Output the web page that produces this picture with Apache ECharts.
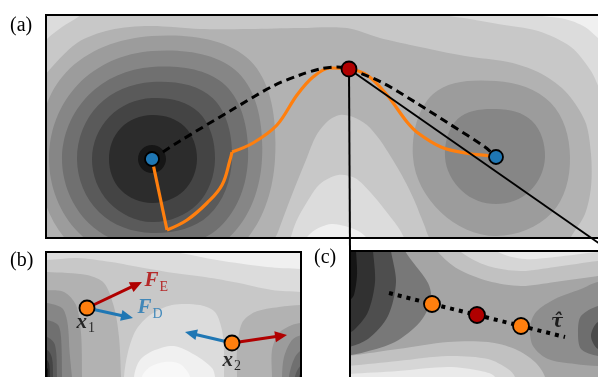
<!DOCTYPE html>
<html>
<head>
<meta charset="utf-8">
<title>NEB sketch</title>
<script src="https://cdn.jsdelivr.net/npm/echarts@6.0.0/dist/echarts.min.js"></script>
<style>
  html, body { margin: 0; padding: 0; background: #fff; }
  #main { width: 598px; height: 377px; }
</style>
</head>
<body>
<div id="main"></div>
<script>
// contour fill colours, light -> dark (panels a, b); index 11 = whitest cap
const greys = ['#f0f0f0', '#dcdcdc', '#c8c8c8', '#b2b2b2', '#9c9c9c', '#868686',
  '#707070', '#5a5a5a', '#444444', '#2c2c2c', '#161616', '#f8f8f8'];
// panel c uses its own shades
const greysC = ['#a5a5a5', '#c1c1c1', '#d6d6d6', '#eaeaea', '#787878', '#4e4e4e',
  '#313131', '#151515', '#8e8e8e', '#6e6e6e', '#4a4a4a'];

const orange = '#ff7f0e';
const blue = '#1f77b4';
const red = '#b00000';

// ---- panel (a): full landscape, x 0..564, y 0..223 (y downwards)
const aExtent = [[0, 564], [0, 223]];
const aSaddleBand = [[-26, 95], [0, 59], [31, 28], [64, 15], [104, 11], [154, 14], [204, 14],
  [254, 13], [301, 13], [334, 23], [374, 32], [419, 41], [462, 47], [492, 57], [519, 76],
  [539, 106], [545, 139], [545, 172], [539, 199], [525, 222], [514, 245], [-26, 245]];
const aTopLeft = [[-20, 50], [0, 25], [16, 12], [32, 2], [45, -10], [-20, -10]];
const aTopRight1 = [[380, -10], [395, -1], [424, 4], [452, 9], [492, 16], [525, 32], [545, 56],
  [556, 78], [575, 100], [600, -10]];
const aTopRight0 = [[470, -10], [485, -1], [519, 4], [539, 12], [552, 23], [570, 38], [600, -10]];
const aHump2 = [[224, 240], [232, 217], [242, 190], [251, 167], [260, 145], [270, 121], [282, 106],
  [294, 100], [307, 102], [321, 110], [334, 125], [345, 142], [354, 157], [362, 172], [369, 187],
  [375, 202], [380, 215], [386, 240]];
const aHump1 = [[240, 240], [244, 225], [250, 207], [261, 187], [274, 169], [292, 160], [309, 163],
  [325, 178], [339, 195], [352, 212], [359, 225], [362, 240]];
const aHump0 = [[255, 240], [259, 225], [269, 215], [285, 209], [299, 211], [314, 217], [322, 225],
  [326, 240]];
// wells: level, then radii towards R, UR, U, UL, L, DL, D, DR
const aLeftWell = [106, 144];
const aLeftRings = [
  [4, 123, 139, 123, 122, 114, 118, 120, 124],
  [5, 110, 122, 108, 105, 103, 104, 105, 110],
  [6, 96, 104, 92, 90, 90, 90, 89, 96],
  [7, 80, 86, 77, 76, 75, 75, 74, 80],
  [8, 63, 66, 61, 60, 60, 61, 63, 64],
  [9, 45, 46, 44, 44, 43, 44, 44, 45],
  [10, 14, 14, 14, 14, 14, 14, 14, 14]
];
const aRightWell = [450, 142];
const aRightRings = [
  [4, 74, 77, 76, 89, 83, 78, 79, 79],
  [5, 49, 51, 48, 54, 51, 48, 47, 48]
];
const aDashed = [[106, 144], [134, 126], [184, 96], [227, 71], [254, 60], [274, 54], [291, 52],
  [303, 54], [335, 67], [369, 87], [402, 108], [439, 132], [450, 142]];
const aOrange1 = [[106, 144], [121, 215]];
const aOrange2 = [[121, 215], [141, 205], [161, 188], [176, 170], [184, 145], [186, 137]];
const aOrange3 = [[186, 137], [207, 128], [231, 110], [251, 80], [267, 62], [284, 53], [303, 54],
  [321, 60], [341, 80], [361, 107], [372, 118], [395, 132], [419, 138], [444, 141], [450, 142]];
const aMinima = [[106, 144], [450, 142]];
const aSaddle = [[303, 54]];

// ---- panel (b): two images near the saddle, x 0..255, y 0..140
const bExtent = [[0, 255], [0, 140]];
const bTop1 = [[-20, 8], [1, 8], [31, 6], [65, 10], [98, 16], [128, 21], [159, 25], [193, 31],
  [226, 38], [255, 40], [275, 42], [275, -20], [-20, -20]];
const bTop0 = [[95, -20], [104, -2], [134, 1], [171, 8], [221, 15], [255, 17], [275, 18], [275, -20]];
const bLeft = [
  [3, [[-20, 20], [1, 20], [41, 23], [58, 31], [68, 55], [73, 85], [75, 125], [76, 160], [-20, 160]]],
  [4, [[-20, 36], [0, 38], [18, 40], [30, 53], [35, 81], [36, 125], [36, 160], [-20, 160]]],
  [5, [[-20, 50], [1, 51], [16, 56], [21, 68], [23, 90], [23, 160], [-20, 160]]],
  [6, [[-20, 67], [1, 68], [12, 73], [15, 85], [16, 125], [16, 160], [-20, 160]]],
  [7, [[-20, 84], [1, 85], [9, 93], [11, 125], [11, 160], [-20, 160]]],
  [8, [[-20, 97], [1, 98], [6, 106], [7, 125], [7, 160], [-20, 160]]],
  [9, [[-20, 107], [1, 108], [4, 125], [4, 160], [-20, 160]]],
  [10, [[-20, 115], [1, 116], [2, 125], [2, 160], [-20, 160]]]
];
const bRight = [
  [3, [[190, 160], [191, 125], [191, 98], [196, 71], [209, 60], [233, 55], [256, 53], [280, 53], [280, 160]]],
  [4, [[226, 160], [226, 125], [226, 98], [233, 81], [246, 73], [256, 71], [280, 70], [280, 160]]],
  [5, [[236, 160], [236, 125], [238, 105], [246, 88], [256, 83], [280, 82], [280, 160]]],
  [6, [[243, 160], [243, 125], [249, 105], [256, 98], [280, 96], [280, 160]]],
  [7, [[249, 160], [249, 125], [256, 113], [280, 110], [280, 160]]],
  [8, [[253, 160], [253, 125], [257, 119], [280, 116], [280, 160]]]
];
const bHump1 = [[78, 160], [78, 125], [82, 100], [90, 78], [104, 63], [126, 53], [154, 53], [169, 60],
  [176, 78], [178, 100], [178, 125], [178, 160]];
const bHump0 = [[88, 160], [88, 125], [94, 108], [109, 98], [128, 94], [149, 103], [166, 116],
  [169, 125], [169, 160]];
const bHumpW = [[96, 160], [96, 125], [104, 115], [119, 110], [134, 112], [144, 125], [144, 160]];
const bImages = [[41, 56], [186, 91]];
const bForceE = [[41, 56, 96, 30], [186, 91, 241, 83]];
const bForceD = [[41, 56, 87, 66], [186, 91, 139, 80]];
const bLabelPos = [[98, 30], [91, 57], [30, 72], [176, 110]];
const bLabelText = ['{fe|F}{se|E}', '{fd|F}{sd|D}', '{fx|x}{sx|1}', '{fx|x}{sx|2}'];

// ---- panel (c): close-up of the saddle, x 0..260, y 0..140
const cExtent = [[0, 260], [0, 140]];
const cShapes = [
  [1, [[84, -10], [88, 1], [108, 18], [138, 30], [171, 35], [205, 31], [248, 25], [275, 22], [275, -10]]],
  [2, [[108, -10], [111, 1], [138, 15], [171, 20], [205, 16], [248, 10], [275, 8], [275, -10]]],
  [3, [[145, -10], [148, 1], [175, 8], [205, 6], [248, 1], [275, 0], [275, -10]]],
  [1, [[-20, 150], [-20, 107], [-2, 105], [48, 98], [98, 91], [138, 91], [165, 98], [185, 111], [195, 126], [198, 150]]],
  [2, [[-20, 150], [-20, 116], [-2, 115], [48, 110], [98, 105], [138, 108], [158, 118], [165, 126], [168, 150]]],
  [3, [[-20, 150], [-20, 124], [-2, 123], [48, 120], [98, 116], [131, 120], [145, 126], [148, 150]]],
  [4, [[-20, -10], [54, -10], [55, 0], [78, 32], [81, 49], [70, 71], [45, 91], [15, 101], [-5, 105], [-20, 106]]],
  [5, [[-20, -10], [40, -10], [41, 0], [46, 31], [38, 65], [18, 88], [-5, 97], [-20, 98]]],
  [6, [[-20, -10], [22, -10], [23, 0], [25, 31], [18, 61], [5, 78], [-5, 84], [-20, 86]]],
  [7, [[-20, -10], [5, -10], [6, 0], [7, 24], [4, 44], [0, 49], [-5, 52], [-20, 54]]],
  [8, [[275, 30], [248, 31], [231, 38], [205, 48], [186, 61], [180, 76], [183, 95], [198, 108], [225, 113], [248, 115], [275, 116]]],
  [9, [[275, 50], [248, 55], [231, 65], [228, 81], [231, 98], [248, 105], [275, 108]]],
  [10, [[275, 65], [248, 71], [241, 85], [248, 98], [275, 105]]]
];
const cChain = [[39, 42], [82, 53], [127, 64], [171, 75], [215, 86]];
const cImages = [[82, 53], [171, 75]];
const cSaddle = [[127, 64]];
const cLabelPos = [[207, 71]];
const cLabelText = ['\u03c4\u0302'];

const panelNames = ['(a)', '(b)', '(c)'];

// ring radii -> closed outline around a well
function ring(center, r) {
  return r.map(function (v, k) {
    const t = k * Math.PI / 4;
    return [center[0] + v * Math.cos(t), center[1] - v * Math.sin(t)];
  });
}

const aShapes = [
  [3, aSaddleBand, 0.3],
  [1, aTopLeft, 0.3],
  [1, aTopRight1, 0.3],
  [0, aTopRight0, 0.3],
  [2, aHump2, 0.3],
  [1, aHump1, 0.3],
  [0, aHump0, 0.3]
];
aLeftRings.forEach(function (r) { aShapes.push([r[0], ring(aLeftWell, r.slice(1)), 0.37]); });
aRightRings.forEach(function (r) { aShapes.push([r[0], ring(aRightWell, r.slice(1)), 0.37]); });

const bShapes = [[1, bTop1, 0.3], [0, bTop0, 0.3]];
bLeft.forEach(function (s) { bShapes.push([s[0], s[1], 0.3]); });
bRight.forEach(function (s) { bShapes.push([s[0], s[1], 0.3]); });
bShapes.push([1, bHump1, 0.3], [0, bHump0, 0.3], [11, bHumpW, 0.3]);

const cShapeList = cShapes.map(function (s) { return [s[0], s[1], 0.3]; });

function contourSeries(gi, baseColor, shapes, colors) {
  return {
    type: 'custom', xAxisIndex: gi, yAxisIndex: gi, z: 1, silent: true, clip: true,
    data: [[-1, 0]].concat(shapes.map(function (s, i) { return [i, 0]; })),
    renderItem: function (params, api) {
      const cs = params.coordSys;
      const box = { x: cs.x, y: cs.y, width: cs.width, height: cs.height };
      const idx = api.value(0);
      let el;
      if (idx < 0) {
        el = { type: 'rect', shape: box, style: { fill: baseColor } };
      } else {
        const s = shapes[idx];
        el = {
          type: 'polygon',
          shape: { points: s[1].map(function (p) { return api.coord(p); }), smooth: s[2] },
          style: { fill: colors[s[0]] }
        };
      }
      return { type: 'group', clipPath: { type: 'rect', shape: box }, children: [el] };
    }
  };
}

function frameSeries(gi) {
  return {
    type: 'custom', xAxisIndex: gi, yAxisIndex: gi, z: 8, silent: true, clip: false,
    data: [[0, 0]],
    renderItem: function (params) {
      const cs = params.coordSys;
      return {
        type: 'rect', shape: { x: cs.x, y: cs.y, width: cs.width, height: cs.height },
        style: { fill: 'none', stroke: '#000', lineWidth: 2 }
      };
    }
  };
}

function arrowSeries(gi, arrows, color) {
  return {
    type: 'custom', xAxisIndex: gi, yAxisIndex: gi, z: 6, silent: true,
    data: arrows,
    renderItem: function (params, api) {
      const a = api.coord([api.value(0), api.value(1)]);
      const b = api.coord([api.value(2), api.value(3)]);
      const dx = b[0] - a[0], dy = b[1] - a[1];
      const len = Math.sqrt(dx * dx + dy * dy);
      const ux = dx / len, uy = dy / len;
      const hl = 12, hw = 5.5;
      const bx = b[0] - ux * hl, by = b[1] - uy * hl;
      return {
        type: 'group', children: [
          { type: 'line', shape: { x1: a[0], y1: a[1], x2: bx + ux, y2: by + uy },
            style: { stroke: color, lineWidth: 3 } },
          { type: 'polygon', shape: { points: [b, [bx - uy * hw, by + ux * hw], [bx + uy * hw, by - ux * hw]] },
            style: { fill: color } }
        ]
      };
    }
  };
}

function dotSeries(gi, pts, color, size) {
  return {
    type: 'scatter', xAxisIndex: gi, yAxisIndex: gi, z: 10, silent: true,
    data: pts, symbol: 'circle', symbolSize: size,
    itemStyle: { color: color, borderColor: '#000', borderWidth: 1.8, opacity: 1 }
  };
}

const serif = 'Liberation Serif';
function mathStyle(color) {
  return { fontFamily: serif, fontStyle: 'italic', fontWeight: 'bold', fontSize: 21, color: color, verticalAlign: 'top' };
}
function subStyle(color, drop) {
  return { fontFamily: serif, fontStyle: 'normal', fontWeight: 'normal', fontSize: 14, color: color,
    padding: [drop, 0, 0, 1], verticalAlign: 'top' };
}
function labelSeries(gi, pos, texts, position) {
  return {
    type: 'scatter', xAxisIndex: gi, yAxisIndex: gi, z: 11, silent: true,
    data: pos, symbolSize: 1, itemStyle: { color: 'rgba(0,0,0,0)' },
    label: {
      show: true, position: position, distance: 0,
      formatter: function (p) { return texts[p.dataIndex]; },
      rich: {
        fe: mathStyle(red), se: subStyle(red, 10),
        fd: mathStyle(blue), sd: subStyle(blue, 10),
        fx: mathStyle('#000'), sx: subStyle('#000', 9)
      },
      fontFamily: 'DejaVu Serif', fontStyle: 'italic', fontWeight: 'bold', fontSize: 18, color: '#000'
    }
  };
}

function lineSeries(gi, pts, style, smooth, z) {
  return {
    type: 'line', xAxisIndex: gi, yAxisIndex: gi, z: z, silent: true,
    data: pts, showSymbol: false, symbol: 'none', smooth: smooth, lineStyle: style
  };
}

const extents = [aExtent, bExtent, cExtent];
const chart = echarts.init(document.getElementById('main'), null, { renderer: 'canvas' });

const option = {
  animation: false,
  backgroundColor: '#fff',
  title: [
    { text: panelNames[0], left: 10, top: 16 },
    { text: panelNames[1], left: 10, top: 251 },
    { text: panelNames[2], left: 314, top: 248 }
  ].map(function (t) {
    t.padding = 0;
    t.textStyle = { fontFamily: serif, fontSize: 20, fontWeight: 'normal', color: '#000' };
    return t;
  }),
  grid: [
    { left: 46, top: 15, width: 564, height: 223, outerBoundsMode: 'none' },
    { left: 46, top: 252, width: 255, height: 140, outerBoundsMode: 'none' },
    { left: 350, top: 251, width: 260, height: 140, outerBoundsMode: 'none' }
  ],
  xAxis: extents.map(function (e, i) {
    return { gridIndex: i, type: 'value', min: e[0][0], max: e[0][1], show: false };
  }),
  yAxis: extents.map(function (e, i) {
    return { gridIndex: i, type: 'value', min: e[1][0], max: e[1][1], inverse: true, show: false };
  }),
  series: [
    contourSeries(0, greys[2], aShapes, greys),
    lineSeries(0, aOrange1, { color: orange, width: 3.2 }, false, 3),
    lineSeries(0, aOrange2, { color: orange, width: 3.2 }, 0.4, 3),
    lineSeries(0, aOrange3, { color: orange, width: 3.2 }, 0.35, 3),
    lineSeries(0, aDashed, { color: '#000', width: 3, type: [8, 5] }, 0.3, 4),
    dotSeries(0, aMinima, blue, 14),
    dotSeries(0, aSaddle, red, 15),
    frameSeries(0),

    contourSeries(1, greys[2], bShapes, greys),
    arrowSeries(1, bForceD, blue),
    arrowSeries(1, bForceE, red),
    dotSeries(1, bImages, orange, 15),
    labelSeries(1, bLabelPos, bLabelText, 'right'),
    frameSeries(1),

    contourSeries(2, greysC[0], cShapeList, greysC),
    lineSeries(2, cChain, { color: '#000', width: 4, type: [4, 5], cap: 'butt' }, false, 4),
    dotSeries(2, cImages, orange, 16),
    dotSeries(2, cSaddle, red, 16),
    labelSeries(2, cLabelPos, cLabelText, 'inside'),
    frameSeries(2)
  ]
};
chart.setOption(option);

// zoom connectors: saddle in (a) -> top corners of (c)
const sPx = chart.convertToPixel({ gridIndex: 0 }, aSaddle[0]);
const cTL = chart.convertToPixel({ gridIndex: 2 }, [cExtent[0][0], cExtent[1][0]]);
const cTR = chart.convertToPixel({ gridIndex: 2 }, [cExtent[0][1], cExtent[1][0]]);
chart.setOption({
  graphic: [cTL, cTR].map(function (p) {
    return {
      type: 'line', z: 5, silent: true,
      shape: { x1: sPx[0], y1: sPx[1], x2: p[0], y2: p[1] },
      style: { stroke: '#000', lineWidth: 2 }
    };
  })
});
</script>
</body>
</html>
